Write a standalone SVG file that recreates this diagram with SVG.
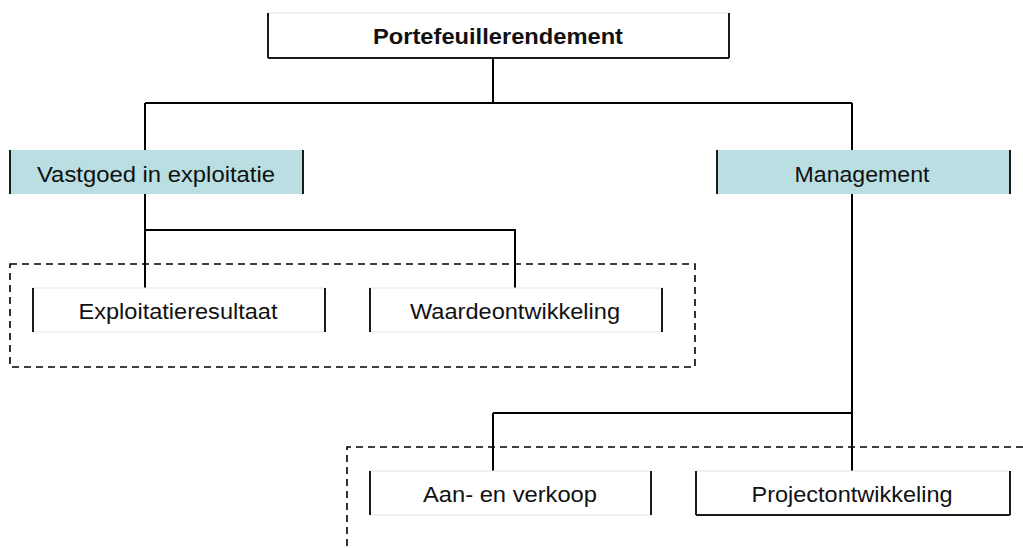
<svg xmlns="http://www.w3.org/2000/svg" width="1023" height="548" viewBox="0 0 1023 548">
<style>
.bg{fill:#ffffff}
.fill-w{fill:#ffffff}
.fill-b{fill:#b9dfe2}
.side{stroke:#1a1a1a;stroke-width:2;fill:none}
.edge{stroke:#e3e3e3;stroke-width:1;fill:none}
.edge-k{stroke:#1a1a1a;stroke-width:2;fill:none}
.conn{stroke:#000;stroke-width:2;fill:none}
.dash{stroke:#000;stroke-width:1.6;fill:none;stroke-dasharray:7 5}
.t{font-family:"Liberation Sans",Arial,sans-serif;font-size:22px;fill:#111;text-anchor:middle}
.tb{font-weight:bold}
</style>
<rect class="bg" x="0" y="0" width="1023" height="548"/>
<g id="groups">
<rect class="dash" x="10" y="264" width="685" height="103"/>
<path class="dash" d="M1023 447 H347 V548"/>
</g>
<g id="connectors">
<path class="conn" d="M493 58 V103 M145 103 H852 M145 103 V150 M852 103 V150"/>
<path class="conn" d="M145 194 V288 M145 230 H515 V288"/>
<path class="conn" d="M852 194 V471 M493 413 H852 M493 413 V471"/>
</g>
<g id="n-portefeuille">
<rect class="fill-w" x="268" y="13" width="461" height="45"/>
<path class="edge" d="M268 13 H729"/>
<path class="edge-k" d="M268 58 H729"/>
<path class="side" d="M268 13 V58 M729 13 V58"/>
<text class="t tb" x="498" y="44" textLength="250" lengthAdjust="spacingAndGlyphs">Portefeuillerendement</text>
</g>
<g id="n-vastgoed">
<rect class="fill-b" x="10" y="150" width="293" height="44"/>
<path class="side" d="M10 150 V194 M303 150 V194"/>
<text class="t" x="156" y="182" textLength="238" lengthAdjust="spacingAndGlyphs">Vastgoed in exploitatie</text>
</g>
<g id="n-management">
<rect class="fill-b" x="717" y="150" width="293" height="44"/>
<path class="side" d="M717 150 V194 M1010 150 V194"/>
<text class="t" x="862" y="182" textLength="135" lengthAdjust="spacingAndGlyphs">Management</text>
</g>
<g id="n-exploitatieresultaat">
<rect class="fill-w" x="33" y="288" width="292" height="44"/>
<path class="edge" d="M33 288 H325 M33 332 H325"/>
<path class="side" d="M33 288 V332 M325 288 V332"/>
<text class="t" x="178" y="319" textLength="199" lengthAdjust="spacingAndGlyphs">Exploitatieresultaat</text>
</g>
<g id="n-waardeontwikkeling">
<rect class="fill-w" x="370" y="288" width="292" height="44"/>
<path class="edge" d="M370 288 H662 M370 332 H662"/>
<path class="side" d="M370 288 V332 M662 288 V332"/>
<text class="t" x="515" y="319" textLength="210" lengthAdjust="spacingAndGlyphs">Waardeontwikkeling</text>
</g>
<g id="n-aanverkoop">
<rect class="fill-w" x="370" y="471" width="281" height="44"/>
<path class="edge" d="M370 471 H651 M370 515 H651"/>
<path class="side" d="M370 471 V515 M651 471 V515"/>
<text class="t" x="510" y="502" textLength="174" lengthAdjust="spacingAndGlyphs">Aan- en verkoop</text>
</g>
<g id="n-projectontwikkeling">
<rect class="fill-w" x="696" y="471" width="314" height="44"/>
<path class="edge" d="M696 471 H1010"/>
<path class="edge-k" d="M696 515 H1010"/>
<path class="side" d="M696 471 V515 M1010 471 V515"/>
<text class="t" x="852" y="502" textLength="201" lengthAdjust="spacingAndGlyphs">Projectontwikkeling</text>
</g>
</svg>
